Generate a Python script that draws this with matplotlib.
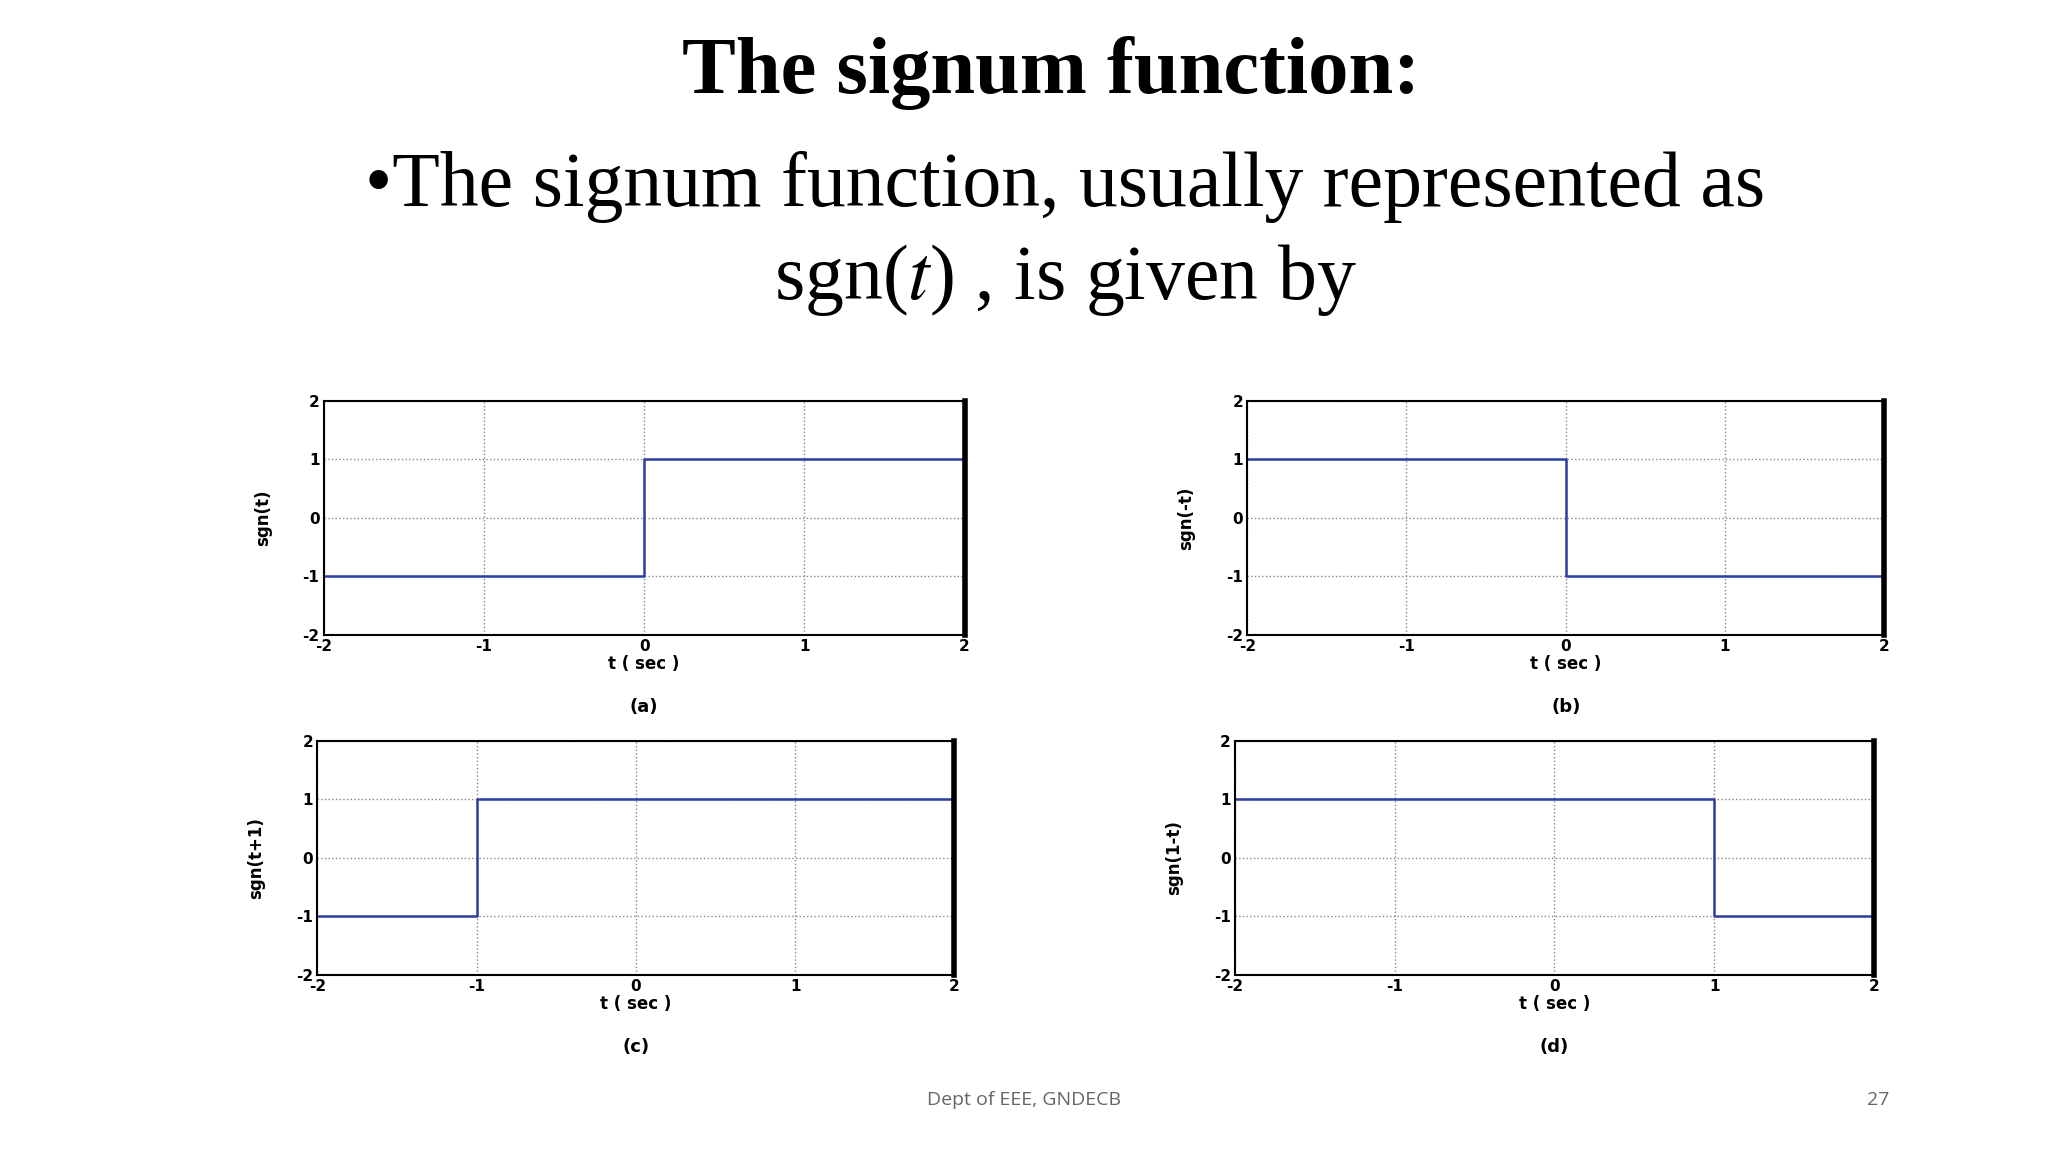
import matplotlib.pyplot as plt

plt.rcParams['mathtext.fontset'] = 'stix'

# step data for the four panels
t_a = [-2, 0, 0, 2];  y_a = [-1, -1, 1, 1]
t_b = [-2, 0, 0, 2];  y_b = [1, 1, -1, -1]
t_c = [-2, -1, -1, 2]; y_c = [-1, -1, 1, 1]
t_d = [-2, 1, 1, 2];  y_d = [1, 1, -1, -1]
ylabels = ['sgn(t)', 'sgn(-t)', 'sgn(t+1)', 'sgn(1-t)']
captions = ['(a)', '(b)', '(c)', '(d)']
ticks = [-2, -1, 0, 1, 2]

fig = plt.figure(figsize=(20.48, 11.52), dpi=100)
serif = 'Liberation Serif'
fig.text(0.513, 0.937, 'The signum function:', ha='center', va='center',
         fontsize=58, fontweight='bold', family=serif)
fig.text(0.52, 0.838, '\u2022The signum function, usually represented as',
         ha='center', va='center', fontsize=56, family=serif)
fig.text(0.52, 0.757, 'sgn($\\mathit{t}$) , is given by', ha='center', va='center',
         fontsize=56, family=serif)

boxes = [(0.158, 0.449, 0.313, 0.203), (0.609, 0.449, 0.311, 0.203),
         (0.155, 0.154, 0.311, 0.203), (0.603, 0.154, 0.312, 0.203)]
data = [(t_a, y_a), (t_b, y_b), (t_c, y_c), (t_d, y_d)]

for box, (t, y), yl, cap in zip(boxes, data, ylabels, captions):
    ax = fig.add_axes(box)
    ax.plot(t, y, color='#2b3fa0', linewidth=1.8)
    ax.set_xlim(-2, 2)
    ax.set_ylim(-2, 2)
    ax.set_xticks(ticks)
    ax.set_yticks(ticks)
    ax.set_xticklabels([str(v) for v in ticks], fontweight='bold', fontsize=11)
    ax.set_yticklabels([str(v) for v in ticks], fontweight='bold', fontsize=11)
    ax.tick_params(length=0, pad=3)
    ax.grid(True, linestyle=':', color='#888888', linewidth=1)
    for s in ax.spines.values():
        s.set_linewidth(1.5)
    ax.spines['right'].set_linewidth(4)
    ax.set_xlabel('t ( sec )', fontweight='bold', fontsize=12, labelpad=1)
    ax.set_ylabel(yl, fontweight='bold', fontsize=12, labelpad=22)
    ax.text(0.5, -0.31, cap, transform=ax.transAxes, ha='center', va='center',
            fontweight='bold', fontsize=13)

fig.text(0.5, 0.045, 'Dept of EEE, GNDECB', ha='center', va='center',
         fontsize=14, color='#666666', family='Open Sans')
fig.text(0.917, 0.045, '27', ha='center', va='center', fontsize=14,
         color='#666666', family='Open Sans')

fig.savefig('out.png', dpi=100)
